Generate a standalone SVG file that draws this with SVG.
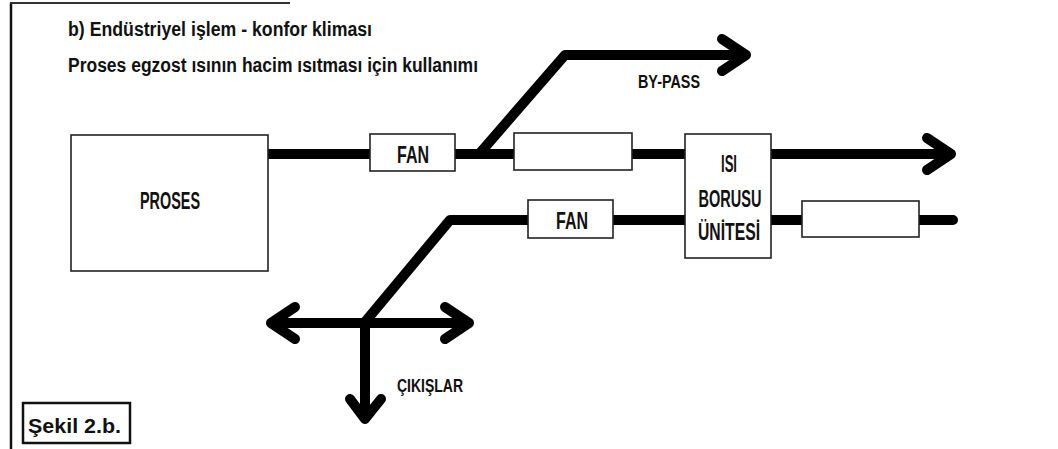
<svg xmlns="http://www.w3.org/2000/svg" width="1058" height="449" viewBox="0 0 1058 449">
<style>
.box{fill:#fff;stroke:#222;stroke-width:1.6}
.pipe{fill:none;stroke:#000;stroke-width:10;stroke-linecap:round;stroke-linejoin:round}
.t{font-family:"Liberation Sans",Arial,sans-serif;font-weight:bold;fill:#111}
.lbl{font-family:"Liberation Sans",Arial,sans-serif;font-weight:bold;fill:#111;text-anchor:middle}
</style>
<rect width="1058" height="449" fill="#fff"/>
<g id="frame">
<line x1="11" y1="3" x2="11" y2="449" stroke="#111" stroke-width="2.5"/>
<line x1="10" y1="3" x2="290" y2="3" stroke="#333" stroke-width="2"/>
</g>
<g id="title">
<text class="t" x="68" y="36" font-size="20" textLength="304" lengthAdjust="spacingAndGlyphs">b) Endüstriyel işlem - konfor kliması</text>
<text class="t" x="68" y="72" font-size="20" textLength="410" lengthAdjust="spacingAndGlyphs">Proses egzost ısının hacim ısıtması için kullanımı</text>
</g>
<g id="connectors">
<line class="pipe" x1="268" y1="154" x2="370" y2="154"/>
<line class="pipe" x1="455" y1="154" x2="514" y2="154"/>
<line class="pipe" x1="632" y1="154" x2="685" y2="154"/>
<polyline class="pipe" points="480,153 565,55 745,55"/>
<polyline class="pipe" points="722,39 746,55 722,71"/>
<line class="pipe" x1="771" y1="154" x2="950" y2="154"/>
<polyline class="pipe" points="927,138 951,154 927,170"/>
<line class="pipe" x1="771" y1="220" x2="802" y2="220"/>
<line class="pipe" x1="919" y1="220" x2="953" y2="220"/>
<line class="pipe" x1="613" y1="220" x2="685" y2="220"/>
<polyline class="pipe" points="528,220 450,220 365,322"/>
<line class="pipe" x1="272" y1="323" x2="468" y2="323"/>
<polyline class="pipe" points="295,307 271,323 295,339"/>
<polyline class="pipe" points="445,307 469,323 445,339"/>
<line class="pipe" x1="365" y1="323" x2="365" y2="418"/>
<polyline class="pipe" points="350,399 365,419 381,399"/>
</g>
<g id="proses">
<rect class="box" x="71" y="135" width="197" height="136"/>
<text class="lbl" x="170" y="209" font-size="23" textLength="60" lengthAdjust="spacingAndGlyphs">PROSES</text>
</g>
<g id="fan1">
<rect class="box" x="370" y="134" width="85" height="37"/>
<text class="lbl" x="413" y="163" font-size="24" textLength="32" lengthAdjust="spacingAndGlyphs">FAN</text>
</g>
<g id="box-upper">
<rect class="box" x="514" y="133" width="118" height="37"/>
</g>
<g id="isi">
<rect class="box" x="685" y="134" width="86" height="124"/>
<text class="lbl" x="729" y="172" font-size="23" textLength="16" lengthAdjust="spacingAndGlyphs">ISI</text>
<text class="lbl" x="730" y="207" font-size="23" textLength="63" lengthAdjust="spacingAndGlyphs">BORUSU</text>
<text class="lbl" x="729" y="240" font-size="23" textLength="62" lengthAdjust="spacingAndGlyphs">ÜNİTESİ</text>
</g>
<g id="fan2">
<rect class="box" x="528" y="200" width="85" height="38"/>
<text class="lbl" x="572" y="229" font-size="24" textLength="32" lengthAdjust="spacingAndGlyphs">FAN</text>
</g>
<g id="box-lower">
<rect class="box" x="802" y="201" width="117" height="36"/>
</g>
<g id="labels">
<text class="t" x="638" y="88" font-size="19" textLength="62" lengthAdjust="spacingAndGlyphs">BY-PASS</text>
<text class="t" x="397" y="392" font-size="19" textLength="66" lengthAdjust="spacingAndGlyphs">ÇIKIŞLAR</text>
</g>
<g id="caption">
<rect x="23" y="403" width="107" height="40" fill="#fff" stroke="#111" stroke-width="2.5"/>
<text class="t" x="28" y="433" font-size="21" textLength="93" lengthAdjust="spacingAndGlyphs">Şekil 2.b.</text>
</g>
</svg>
